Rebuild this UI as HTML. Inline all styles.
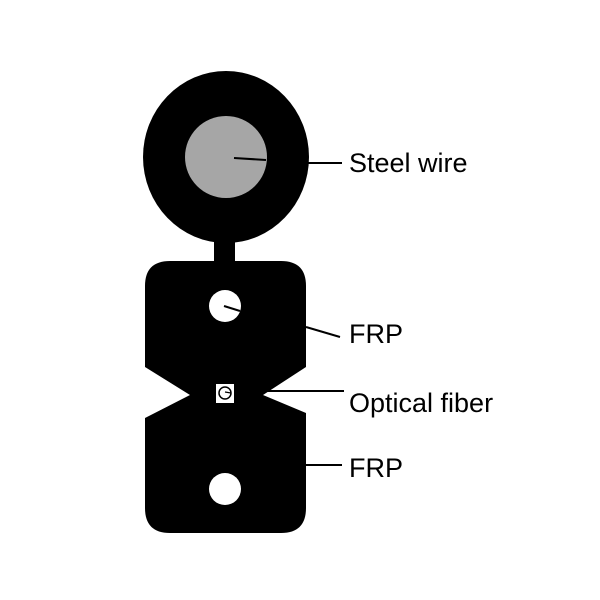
<!DOCTYPE html>
<html><head><meta charset="utf-8"><style>
html,body{margin:0;padding:0;background:#fff;}
svg{display:block;}
text{font-family:"Liberation Sans",sans-serif;font-size:27px;fill:#000;}
</style></head><body>
<svg width="600" height="600" viewBox="0 0 600 600" xmlns="http://www.w3.org/2000/svg">
<rect width="600" height="600" fill="#fff"/>
<ellipse cx="226" cy="157" rx="83" ry="86" fill="#000"/>
<circle cx="226" cy="157" r="41" fill="#a6a6a6"/>
<line x1="234" y1="158" x2="266" y2="160" stroke="#000" stroke-width="2"/>
<rect x="214" y="235" width="21" height="30" fill="#000"/>
<path d="M170 261 H281 Q306 261 306 286 V367 L263 395 L306 413 V508 Q306 533 281 533 H170 Q145 533 145 508 V418 L190 395 L145 367 V286 Q145 261 170 261 Z" fill="#000"/>
<circle cx="225" cy="306" r="16" fill="#fff"/>
<line x1="224" y1="306" x2="240" y2="311" stroke="#000" stroke-width="2"/>
<circle cx="225" cy="489" r="16" fill="#fff"/>
<rect x="216" y="384" width="18" height="19" fill="#fff"/>
<circle cx="225" cy="393" r="6" fill="none" stroke="#000" stroke-width="1.5"/>
<line x1="225" y1="392" x2="231" y2="393" stroke="#000" stroke-width="1.2"/>
<g stroke="#000" stroke-width="2">
<line x1="308" y1="163" x2="342" y2="163"/>
<line x1="306" y1="327" x2="340" y2="337"/>
<line x1="263" y1="391" x2="344" y2="391"/>
<line x1="306" y1="465" x2="342" y2="465"/>
</g>
<text x="349" y="172">Steel wire</text>
<text x="349" y="343">FRP</text>
<text x="349" y="412">Optical fiber</text>
<text x="349" y="477">FRP</text>
</svg>
</body></html>
